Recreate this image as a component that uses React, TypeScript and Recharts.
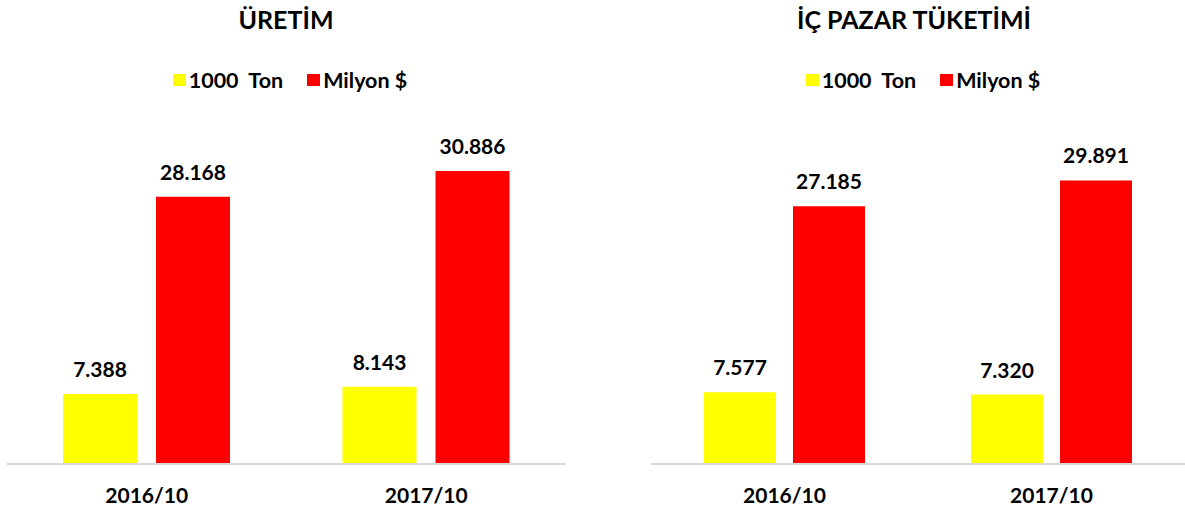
import React from 'react';
import { BarChart, Bar, XAxis, YAxis, LabelList } from 'recharts';

const categories = ['2016/10', '2017/10'];
const seriesNames = ['1000  Ton', 'Milyon $'];
const seriesColors = ['#FFFF00', '#FF0000'];
const uretimTon = [7388, 8143];
const uretimUsd = [28168, 30886];
const icPazarTon = [7577, 7320];
const icPazarUsd = [27185, 29891];
const yDomain = [0, 35000];

const FONT = 'Lato, "Open Sans", sans-serif';

const fmt = (v: number) => {
  const s = String(Math.round(v));
  return s.replace(/\B(?=(\d{3})+(?!\d))/g, '.');
};

const build = (ton: number[], usd: number[]) =>
  categories.map((c, i) => ({ name: c, ton: ton[i], usd: usd[i] }));

type PanelProps = {
  left: number;
  width: number;
  title: string;
  titleCenter: number;
  legendCenter: number;
  data: any[];
  marginLeft: number;
  marginRight: number;
  barSize: number;
  barGap: number;
};

const Panel = (p: PanelProps) => (
  <div style={{ position: 'absolute', left: p.left, top: 0, width: p.width, height: 513 }}>
    <div
      style={{
        position: 'absolute',
        left: p.titleCenter - 200,
        width: 400,
        top: 4,
        textAlign: 'center',
        fontFamily: FONT,
        fontWeight: 700,
        fontSize: 25,
        lineHeight: '30px',
        color: '#000',
      }}
    >
      {p.title}
    </div>
    <div
      style={{
        position: 'absolute',
        left: p.legendCenter - 200,
        width: 400,
        top: 67,
        display: 'flex',
        justifyContent: 'center',
        alignItems: 'center',
        fontFamily: FONT,
        fontWeight: 700,
        fontSize: 21.5,
        lineHeight: '26px',
        color: '#000',
      }}
    >
      {seriesNames.map((n, i) => (
        <div key={n} style={{ display: 'flex', alignItems: 'center', marginRight: i === 0 ? 24 : 0 }}>
          <span style={{ display: 'inline-block', width: 13, height: 12, background: seriesColors[i], marginRight: 3 }} />
          <span style={{ whiteSpace: 'pre' }}>{n}</span>
        </div>
      ))}
    </div>
    <BarChart
      width={p.width}
      height={513}
      data={p.data}
      margin={{ top: 132, right: p.marginRight, bottom: 0, left: p.marginLeft }}
      barGap={p.barGap}
      style={{ position: 'absolute', left: 0, top: 0 }}
    >
      <XAxis
        dataKey="name"
        height={49}
        axisLine={{ stroke: '#d9d9d9', strokeWidth: 2 }}
        tickLine={false}
        tickSize={0}
        tickMargin={24}
        tick={{ fontFamily: FONT, fontWeight: 700, fontSize: 21, fill: '#000' }}
        interval={0}
      />
      <YAxis hide domain={yDomain} />
      <Bar dataKey="ton" fill={seriesColors[0]} barSize={p.barSize} isAnimationActive={false}>
        <LabelList
          dataKey="ton"
          position="top"
          offset={17}
          formatter={(v: any) => fmt(Number(v))}
          style={{ fontFamily: FONT, fontWeight: 700, fontSize: 21, fill: '#000' }}
        />
      </Bar>
      <Bar dataKey="usd" fill={seriesColors[1]} barSize={p.barSize} isAnimationActive={false}>
        <LabelList
          dataKey="usd"
          position="top"
          offset={17}
          formatter={(v: any) => fmt(Number(v))}
          style={{ fontFamily: FONT, fontWeight: 700, fontSize: 21, fill: '#000' }}
        />
      </Bar>
    </BarChart>
  </div>
);

export default function App() {
  return (
    <div style={{ position: 'absolute', left: 0, top: 0, width: 1185, height: 513, background: '#fff' }}>
      <Panel
        left={0}
        width={590}
        title="ÜRETİM"
        titleCenter={286}
        legendCenter={290}
        data={build(uretimTon, uretimUsd)}
        marginLeft={7}
        marginRight={24}
        barSize={74}
        barGap={19}
      />
      <Panel
        left={620}
        width={565}
        title="İÇ PAZAR TÜKETİMİ"
        titleCenter={294}
        legendCenter={303}
        data={build(icPazarTon, icPazarUsd)}
        marginLeft={31}
        marginRight={0}
        barSize={72}
        barGap={17}
      />
    </div>
  );
}
